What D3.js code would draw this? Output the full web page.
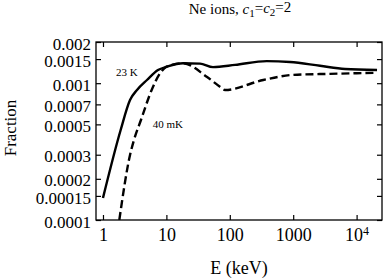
<!DOCTYPE html>
<html>
<head>
<meta charset="utf-8">
<script src="https://cdn.jsdelivr.net/npm/d3@7"></script>
<style>
  body { margin: 0; background: #fff; }
</style>
</head>
<body>
<div id="chart"></div>
<script>
// 23 K curve (solid)
const warmE = [1, 1.9, 2.67, 3.44, 4.94, 7.37, 10.2, 18.3, 33.9, 54.3, 121, 382, 890, 2650, 6560, 21000];
const warmF = [1.45e-4, 4.55e-4, 7.54e-4, 8.92e-4, 1.055e-3, 1.248e-3, 1.32e-3, 1.40e-3, 1.39e-3, 1.31e-3, 1.36e-3, 1.45e-3, 1.43e-3, 1.34e-3, 1.27e-3, 1.25e-3];
// 40 mK curve (dashed)
const coldE = [1.81, 2.67, 3.08, 3.97, 5.86, 7.93, 10.1, 18.3, 43.2, 70, 84, 337, 993, 3800, 19500];
const coldF = [1.0e-4, 2.99e-4, 3.84e-4, 5.38e-4, 8.92e-4, 1.18e-3, 1.32e-3, 1.40e-3, 1.115e-3, 9.42e-4, 8.92e-4, 1.055e-3, 1.15e-3, 1.17e-3, 1.19e-3];

const xTicks = [1, 10, 100, 1000, 10000];
const yTicks = [0.0001, 0.00015, 0.0002, 0.0003, 0.0005, 0.0007, 0.001, 0.0015, 0.002];
const yTickLabels = ["0.0001", "0.00015", "0.0002", "0.0003", "0.0005", "0.0007", "0.001", "0.0015", "0.002"];

const FONT = "'Liberation Serif', 'Times New Roman', Times, serif";
const W = 386, H = 278;
const margin = {top: 42, right: 4, bottom: 58, left: 96};
const width = W - margin.left - margin.right,
    height = H - margin.top - margin.bottom;

const svg = d3.select("#chart").append("svg")
    .attr("width", W)
    .attr("height", H);

const g = svg.append("g").attr("transform", `translate(${margin.left},${margin.top})`);

const x = d3.scaleLog().domain([0.776, 25150]).range([0, width]);
const y = d3.scaleLog().domain([0.0001, 0.002]).range([height, 0]);

// frame
g.append("rect")
    .attr("width", width).attr("height", height)
    .attr("fill", "none").attr("stroke", "#000").attr("stroke-width", 1.3);

const xAxis = g.append("g")
    .attr("transform", `translate(0,${height})`)
    .call(d3.axisBottom(x).tickValues(xTicks).tickSizeInner(-5).tickSizeOuter(0).tickPadding(8)
        .tickFormat(d => d === 10000 ? "" : d3.format("d")(d)));
xAxis.select(".domain").remove();
xAxis.selectAll("text").style("font-size", "18px").attr("fill", "#000");
xAxis.selectAll("line").attr("stroke-width", 1.2);

// 10^4 with superscript
const t4 = xAxis.selectAll(".tick").filter(d => d === 10000).select("text");
t4.append("tspan").text("10");
t4.append("tspan").text("4").attr("dy", "-0.45em").style("font-size", "12px");

const yAxis = g.append("g")
    .call(d3.axisLeft(y).tickValues(yTicks).tickSizeInner(-5).tickSizeOuter(0).tickPadding(5)
        .tickFormat((d, i) => yTickLabels[i]));
yAxis.select(".domain").remove();
yAxis.selectAll("text").style("font-size", "17px").attr("fill", "#000").attr("dy", "0.42em");
yAxis.selectAll("line").attr("stroke-width", 1.2);

// mirrored ticks on top and right
g.append("g")
    .call(d3.axisTop(x).tickValues(xTicks).tickSizeInner(-5).tickSizeOuter(0).tickFormat(""))
    .call(a => a.select(".domain").remove())
    .selectAll("line").attr("stroke-width", 1.2);
g.append("g")
    .attr("transform", `translate(${width},0)`)
    .call(d3.axisRight(y).tickValues(yTicks).tickSizeInner(-5).tickSizeOuter(0).tickFormat(""))
    .call(a => a.select(".domain").remove())
    .selectAll("line").attr("stroke-width", 1.2);

const line = d3.line()
    .x(d => x(d[0]))
    .y(d => y(d[1]))
    .curve(d3.curveMonotoneX);

g.append("clipPath").attr("id", "clip")
    .append("rect").attr("width", width).attr("height", height);

g.append("path")
    .datum(warmE.map((e, i) => [e, warmF[i]]))
    .attr("d", line)
    .attr("clip-path", "url(#clip)")
    .attr("fill", "none").attr("stroke", "#000").attr("stroke-width", 2.4);

g.append("path")
    .datum(coldE.map((e, i) => [e, coldF[i]]))
    .attr("d", line)
    .attr("clip-path", "url(#clip)")
    .attr("fill", "none").attr("stroke", "#000").attr("stroke-width", 2.4)
    .attr("stroke-dasharray", "8,4");

// curve labels
g.append("text").attr("x", x(1.6)).attr("y", y(0.00113))
    .style("font-size", "11px").text("23 K");
g.append("text").attr("x", x(6.08)).attr("y", y(0.000473))
    .style("font-size", "11px").text("40 mK");

// title
const title = svg.append("text")
    .attr("x", margin.left + width / 2 + 1).attr("y", 14)
    .attr("text-anchor", "middle")
    .style("font-size", "15px");
title.append("tspan").text("Ne ions, ");
title.append("tspan").text("c").style("font-style", "italic");
title.append("tspan").text("1").attr("dy", "0.25em").style("font-size", "11px");
title.append("tspan").text("=").attr("dy", "-0.25em");
title.append("tspan").text("c").style("font-style", "italic");
title.append("tspan").text("2").attr("dy", "0.25em").style("font-size", "11px");
title.append("tspan").text("=2").attr("dy", "-0.25em");

// axis titles
svg.append("text")
    .attr("x", margin.left + width / 2).attr("y", 274)
    .attr("text-anchor", "middle")
    .style("font-size", "18px")
    .text("E (keV)");

svg.append("text")
    .attr("transform", `translate(16,128) rotate(-90)`)
    .attr("text-anchor", "middle")
    .style("font-size", "17px")
    .text("Fraction");

svg.selectAll("text").style("font-family", FONT).attr("font-family", FONT);
</script>
</body>
</html>
